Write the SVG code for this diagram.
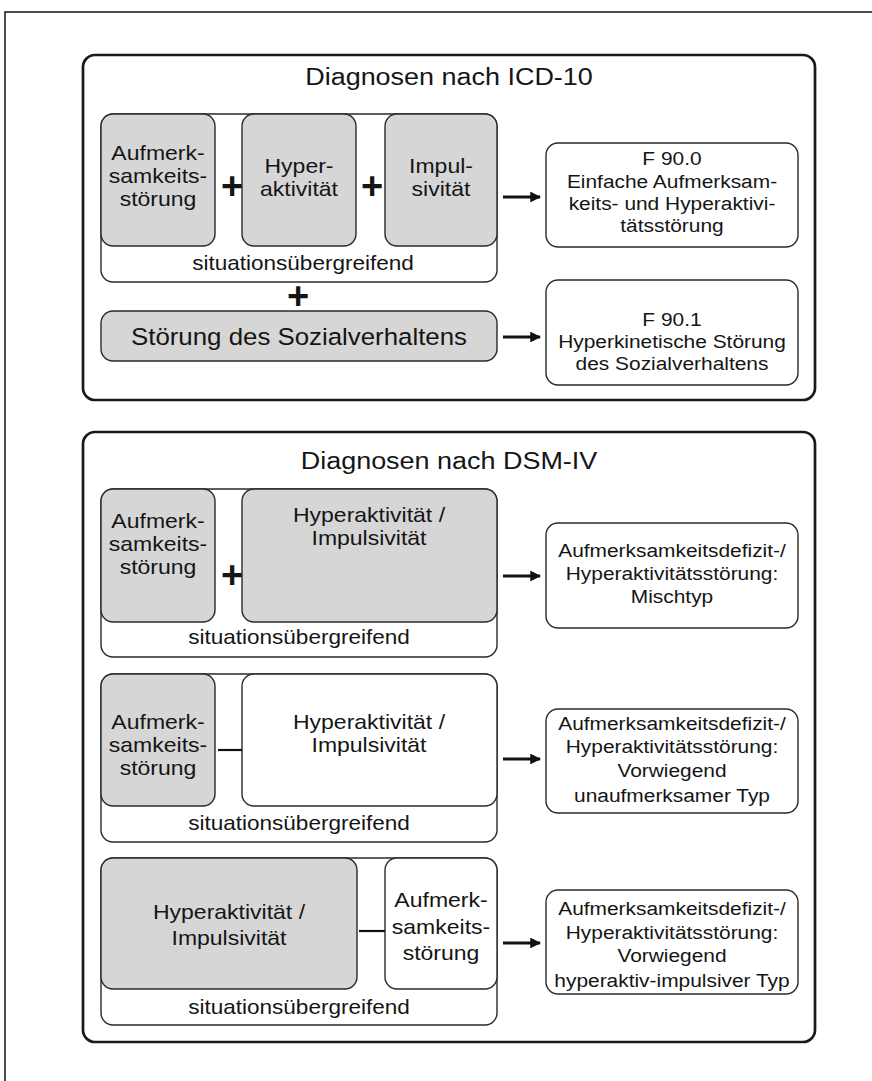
<svg xmlns="http://www.w3.org/2000/svg" width="872" height="1081" viewBox="0 0 872 1081">
<style>
.frame{fill:none;stroke:#111;stroke-width:1.5}
.big{fill:#fff;stroke:#1a1a1a;stroke-width:2.7}
.sit{fill:#fff;stroke:#2a2a2a;stroke-width:1.4}
.gray{fill:#d6d6d6;stroke:#2a2a2a;stroke-width:1.4}
.wbox{fill:#fff;stroke:#2a2a2a;stroke-width:1.4}
.res{fill:#fff;stroke:#2a2a2a;stroke-width:1.4}
text{font-family:"Liberation Sans",Arial,sans-serif;fill:#151515;text-anchor:middle}
.title{font-size:24.5px}
.g{font-size:20px}
.s{font-size:20.5px}
.r{font-size:19px}
.soz{font-size:23.5px}
.plus{font-size:38px;font-weight:bold}
.arr{fill:none;stroke:#111;stroke-width:3}
.dash{fill:none;stroke:#111;stroke-width:2.2}
</style>
<defs>
<marker id="ah" viewBox="0 0 10 10" refX="9" refY="5" markerWidth="3.6" markerHeight="3.6" orient="auto" markerUnits="strokeWidth">
<path d="M0,0 L10,5 L0,10 z" fill="#111"/>
</marker>
</defs>
<path class="frame" d="M5,1081 L5,12 L872,12"/>

<g id="icd">
<rect class="big" x="83" y="55" width="732" height="345" rx="12"/>
<text class="title" transform="translate(449,84.5) scale(1.1,1)">Diagnosen nach ICD-10</text>
</g>
<g id="icd-sit">
<rect class="sit" x="101" y="114" width="396" height="168" rx="12"/>
<text class="s" transform="translate(303,270) scale(1.1,1)">situationsübergreifend</text>
</g>
<g id="icd-auf">
<rect class="gray" x="101" y="114" width="114" height="132" rx="12"/>
<text class="g" transform="translate(158,160) scale(1.15,1)">Aufmerk-</text>
<text class="g" transform="translate(158,183) scale(1.15,1)">samkeits-</text>
<text class="g" transform="translate(158,206) scale(1.15,1)">störung</text>
</g>
<g id="icd-hyp">
<rect class="gray" x="242" y="114" width="114" height="132" rx="12"/>
<text class="g" transform="translate(299,173) scale(1.15,1)">Hyper-</text>
<text class="g" transform="translate(299,196) scale(1.15,1)">aktivität</text>
</g>
<g id="icd-imp">
<rect class="gray" x="385" y="114" width="112" height="132" rx="12"/>
<text class="g" transform="translate(441,173) scale(1.15,1)">Impul-</text>
<text class="g" transform="translate(441,196) scale(1.15,1)">sivität</text>
</g>
<g id="icd-plus">
<text class="plus" x="232" y="199">+</text>
<text class="plus" x="372" y="199">+</text>
<text class="plus" x="298" y="309">+</text>
</g>
<g id="icd-soz">
<rect class="gray" x="101" y="311" width="396" height="50" rx="12"/>
<text class="soz" transform="translate(299,345) scale(1.1,1)">Störung des Sozialverhaltens</text>
</g>
<g id="f900">
<rect class="res" x="546" y="143" width="252" height="104" rx="12"/>
<text class="r" transform="translate(672,165) scale(1.1,1)">F 90.0</text>
<text class="r" transform="translate(672,188) scale(1.1,1)">Einfache Aufmerksam-</text>
<text class="r" transform="translate(672,210) scale(1.1,1)">keits- und Hyperaktivi-</text>
<text class="r" transform="translate(672,232) scale(1.1,1)">tätsstörung</text>
</g>
<g id="f901">
<rect class="res" x="546" y="280" width="252" height="105" rx="12"/>
<text class="r" transform="translate(672,326) scale(1.1,1)">F 90.1</text>
<text class="r" transform="translate(672,348) scale(1.1,1)">Hyperkinetische Störung</text>
<text class="r" transform="translate(672,370) scale(1.1,1)">des Sozialverhaltens</text>
</g>

<g id="dsm">
<rect class="big" x="83" y="432" width="732" height="610" rx="12"/>
<text class="title" transform="translate(449,468.5) scale(1.1,1)">Diagnosen nach DSM-IV</text>
</g>
<g id="dsm1-sit">
<rect class="sit" x="101" y="489" width="396" height="168" rx="12"/>
<text class="s" transform="translate(299,644) scale(1.1,1)">situationsübergreifend</text>
</g>
<g id="dsm1-auf">
<rect class="gray" x="101" y="489" width="114" height="133" rx="12"/>
<text class="g" transform="translate(158,528) scale(1.15,1)">Aufmerk-</text>
<text class="g" transform="translate(158,551) scale(1.15,1)">samkeits-</text>
<text class="g" transform="translate(158,574) scale(1.15,1)">störung</text>
</g>
<g id="dsm1-hyp">
<rect class="gray" x="242" y="489" width="255" height="133" rx="12"/>
<text class="g" transform="translate(369,522) scale(1.15,1)">Hyperaktivität /</text>
<text class="g" transform="translate(369,545) scale(1.15,1)">Impulsivität</text>
</g>
<g id="dsm1-plus">
<text class="plus" x="232" y="588">+</text>
</g>
<g id="dsm1-res">
<rect class="res" x="546" y="523" width="252" height="105" rx="12"/>
<text class="r" transform="translate(672,557) scale(1.1,1)">Aufmerksamkeitsdefizit-/</text>
<text class="r" transform="translate(672,580) scale(1.1,1)">Hyperaktivitätsstörung:</text>
<text class="r" transform="translate(672,603) scale(1.1,1)">Mischtyp</text>
</g>

<g id="dsm2-sit">
<rect class="sit" x="101" y="674" width="396" height="168" rx="12"/>
<text class="s" transform="translate(299,830) scale(1.1,1)">situationsübergreifend</text>
</g>
<g id="dsm2-auf">
<rect class="gray" x="101" y="674" width="114" height="132" rx="12"/>
<text class="g" transform="translate(158,729) scale(1.15,1)">Aufmerk-</text>
<text class="g" transform="translate(158,752) scale(1.15,1)">samkeits-</text>
<text class="g" transform="translate(158,775) scale(1.15,1)">störung</text>
</g>
<g id="dsm2-hyp">
<rect class="wbox" x="242" y="674" width="255" height="132" rx="12"/>
<text class="g" transform="translate(369,729) scale(1.15,1)">Hyperaktivität /</text>
<text class="g" transform="translate(369,752) scale(1.15,1)">Impulsivität</text>
</g>
<g id="dsm2-res">
<rect class="res" x="546" y="709" width="252" height="104" rx="12"/>
<text class="r" transform="translate(672,730) scale(1.1,1)">Aufmerksamkeitsdefizit-/</text>
<text class="r" transform="translate(672,753) scale(1.1,1)">Hyperaktivitätsstörung:</text>
<text class="r" transform="translate(672,777) scale(1.1,1)">Vorwiegend</text>
<text class="r" transform="translate(672,802) scale(1.1,1)">unaufmerksamer Typ</text>
</g>

<g id="dsm3-sit">
<rect class="sit" x="101" y="858" width="396" height="167" rx="12"/>
<text class="s" transform="translate(299,1014) scale(1.1,1)">situationsübergreifend</text>
</g>
<g id="dsm3-hyp">
<rect class="gray" x="101" y="858" width="256" height="131" rx="12"/>
<text class="g" transform="translate(229,919) scale(1.15,1)">Hyperaktivität /</text>
<text class="g" transform="translate(229,945) scale(1.15,1)">Impulsivität</text>
</g>
<g id="dsm3-auf">
<rect class="wbox" x="385" y="858" width="112" height="131" rx="12"/>
<text class="g" transform="translate(441,907) scale(1.15,1)">Aufmerk-</text>
<text class="g" transform="translate(441,934) scale(1.15,1)">samkeits-</text>
<text class="g" transform="translate(441,960) scale(1.15,1)">störung</text>
</g>
<g id="dsm3-res">
<rect class="res" x="546" y="890" width="252" height="104" rx="12"/>
<text class="r" transform="translate(672,915) scale(1.1,1)">Aufmerksamkeitsdefizit-/</text>
<text class="r" transform="translate(672,939) scale(1.1,1)">Hyperaktivitätsstörung:</text>
<text class="r" transform="translate(672,962) scale(1.1,1)">Vorwiegend</text>
<text class="r" transform="translate(672,987) scale(1.1,1)">hyperaktiv-impulsiver Typ</text>
</g>

<g id="connectors">
<line class="arr" x1="503" y1="197" x2="540" y2="197" marker-end="url(#ah)"/>
<line class="arr" x1="503" y1="337" x2="540" y2="337" marker-end="url(#ah)"/>
<line class="arr" x1="503" y1="576" x2="540" y2="576" marker-end="url(#ah)"/>
<line class="arr" x1="503" y1="759" x2="540" y2="759" marker-end="url(#ah)"/>
<line class="arr" x1="503" y1="943" x2="540" y2="943" marker-end="url(#ah)"/>
<line class="dash" x1="218" y1="750" x2="242" y2="750"/>
<line class="dash" x1="359" y1="931" x2="385" y2="931"/>
</g>
</svg>
